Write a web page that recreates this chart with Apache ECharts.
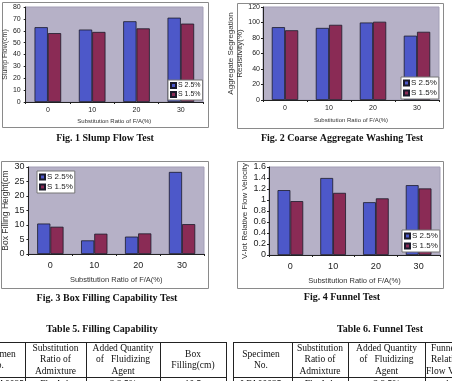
<!DOCTYPE html>
<html>
<head>
<meta charset="utf-8">
<script src="https://cdn.jsdelivr.net/npm/echarts@6/dist/echarts.min.js"></script>
<style>
    html, body { margin: 0; padding: 0; background: #fff; }
    #main { width: 452px; height: 381px; }
</style>
</head>
<body>
<div id="main"></div>
<script>
    // 横轴类别 (F/A 置换率)
    var categories = ['0', '10', '20', '30']
    var seriesNames = ['S 2.5%', 'S 1.5%']
    // Fig.1 坍落流动度
    var slumpHigh = [63, 61, 68, 71]
    var slumpLow = [58, 59, 62, 66]
    // Fig.2 骨料离析抵抗性
    var washHigh = [94, 93, 100, 83]
    var washLow = [90, 97, 101, 88]
    // Fig.3 箱形填充高度
    var boxHigh = [10.5, 4.7, 6, 28.3]
    var boxLow = [9.4, 7, 7.1, 10.3]
    // Fig.4 漏斗相对流速
    var funnelHigh = [1.18, 1.4, 0.96, 1.27]
    var funnelLow = [0.98, 1.13, 1.03, 1.21]

    var blue = '#4d58c9'
    var maroon = '#8a2b55'
    var plotBg = '#b6b1c7'
    var sans = 'Liberation Sans'
    var serif = 'Liberation Serif'

    var chart = echarts.init(document.getElementById('main'))

    function grid (left, top, width, height) {
        return {
            left: left, top: top, width: width, height: height,
            show: true, backgroundColor: plotBg,
            borderColor: '#a39eb6', borderWidth: 1
        }
    }

    function xAxis (idx, fontSize, margin, nameGap, nameSize) {
        return {
            type: 'category', gridIndex: idx, data: categories,
            name: 'Substitution Ratio of F/A(%)',
            nameLocation: 'middle', nameGap: nameGap,
            nameTextStyle: { fontSize: nameSize, fontFamily: sans, color: '#333' },
            axisLine: { lineStyle: { color: '#222', width: 1 } },
            axisTick: { show: true, length: 2, lineStyle: { color: '#222' } },
            axisLabel: { fontSize: fontSize, margin: margin, color: '#222', fontFamily: sans }
        }
    }

    function yAxis (idx, max, interval, name, fontSize, margin, nameGap, nameSize) {
        return {
            type: 'value', gridIndex: idx, min: 0, max: max, interval: interval,
            name: name, nameLocation: 'middle', nameGap: nameGap,
            nameTextStyle: { fontSize: nameSize, fontFamily: sans, color: '#333', lineHeight: nameSize + 1 },
            axisLine: { show: true, lineStyle: { color: '#222', width: 1 } },
            axisTick: { show: true, length: 2, lineStyle: { color: '#222' } },
            splitLine: { show: false },
            axisLabel: { fontSize: fontSize, margin: margin, color: '#222', fontFamily: sans }
        }
    }

    function bars (idx, name, data, color) {
        return {
            name: name, type: 'bar', xAxisIndex: idx, yAxisIndex: idx,
            data: data, barGap: '0%', barCategoryGap: '40%',
            itemStyle: { color: color, borderColor: '#1a1a2a', borderWidth: 0.8 }
        }
    }

    function legend (left, top, fontSize) {
        return {
            left: left, top: top, orient: 'vertical', data: seriesNames,
            icon: 'rect', itemWidth: 5, itemHeight: 5, itemGap: 2,
            padding: [2, 2, 2, 2], backgroundColor: '#fff',
            borderColor: '#777', borderWidth: 1, selectedMode: false,
            textStyle: { fontSize: fontSize, fontFamily: sans, color: '#222', padding: [0, 0, 0, -3] }
        }
    }

    function caption (x, y, text) {
        return {
            type: 'text', x: x, y: y,
            style: { text: text, font: 'bold 10px ' + serif, fill: '#111', textAlign: 'center', textVerticalAlign: 'middle' }
        }
    }

    function frame (x, y, w, h) {
        return {
            type: 'rect', shape: { x: x, y: y, width: w, height: h }, z: -1,
            style: { fill: 'none', stroke: '#8a8a8a', lineWidth: 1 }
        }
    }

    // 表格线与文字
    var tableItems = []
    function line (x1, y1, x2, y2) {
        tableItems.push({ type: 'line', shape: { x1: x1, y1: y1, x2: x2, y2: y2 }, style: { stroke: '#222', lineWidth: 1 } })
    }
    function cell (x, y, text, align) {
        tableItems.push({
            type: 'text', x: x, y: y,
            style: { text: text, font: '9.5px ' + serif, fill: '#111', textAlign: align || 'center', textVerticalAlign: 'middle' }
        })
    }
    // Table 5
    line(-5, 342.5, 226, 342.5)
    line(-5, 377.5, 226, 377.5)
    ;[25, 86, 160, 226].forEach(function (x) { line(x + 0.5, 342, x + 0.5, 381) })
    cell(-3, 354, 'Specimen'); cell(-3, 365, 'No.')
    cell(55.5, 348, 'Substitution'); cell(55.5, 359, 'Ratio of'); cell(55.5, 371, 'Admixture')
    cell(123, 348, 'Added Quantity'); cell(123, 359, 'of   Fluidizing'); cell(123, 371, 'Agent')
    cell(193, 354, 'Box'); cell(193, 365, 'Filling(cm)')
    cell(6, 384, 'LFA0025'); cell(55.5, 384, 'Fly Ash'); cell(123, 384, 'S 2.5%'); cell(193, 384, '10.5')
    // Table 6
    line(233, 342.5, 460, 342.5)
    line(233, 377.5, 460, 377.5)
    ;[233, 292, 348, 425].forEach(function (x) { line(x + 0.5, 342, x + 0.5, 381) })
    cell(261, 354, 'Specimen'); cell(261, 365, 'No.')
    cell(320, 348, 'Substitution'); cell(320, 359, 'Ratio of'); cell(320, 371, 'Admixture')
    cell(386.5, 348, 'Added Quantity'); cell(386.5, 359, 'of   Fluidizing'); cell(386.5, 371, 'Agent')
    cell(431, 348, 'Funnel', 'left'); cell(431, 359, 'Relative', 'left'); cell(426, 371, 'Flow Velocity', 'left')
    cell(261, 384, 'LFA00025'); cell(320, 384, 'Fly Ash'); cell(386.5, 384, 'S 2.5%'); cell(445, 384, '1.18', 'left')

    chart.setOption({
        animation: false,
        backgroundColor: '#fff',
        grid: [
            grid(23, 7, 180, 95),
            grid(263, 7, 176, 93),
            grid(28, 167, 176, 87),
            grid(269, 167, 171, 88)
        ],
        xAxis: [
            xAxis(0, 7, 5, 16, 6),
            xAxis(1, 7, 5, 17, 6),
            xAxis(2, 9, 7, 22, 7.5),
            xAxis(3, 9, 7, 22, 7.5)
        ],
        yAxis: [
            yAxis(0, 80, 10, 'Slump Flow(cm)', 7, 5, 14, 7),
            yAxis(1, 120, 20, 'Aggregate Segregation\nResistivity(%)', 7, 3, 15, 8),
            yAxis(2, 30, 5, 'Box Filling Height(cm', 9, 4, 15, 8.5),
            yAxis(3, 1.6, 0.2, 'V-lot Relative Flow Velocity', 9, 3, 19, 8)
        ],
        legend: [
            legend(168, 80, 7),
            legend(401, 77, 8),
            legend(37, 171, 8),
            legend(402, 230, 8)
        ],
        series: [
            bars(0, seriesNames[0], slumpHigh, blue),
            bars(0, seriesNames[1], slumpLow, maroon),
            bars(1, seriesNames[0], washHigh, blue),
            bars(1, seriesNames[1], washLow, maroon),
            bars(2, seriesNames[0], boxHigh, blue),
            bars(2, seriesNames[1], boxLow, maroon),
            bars(3, seriesNames[0], funnelHigh, blue),
            bars(3, seriesNames[1], funnelLow, maroon)
        ],
        graphic: [
            frame(2.5, 2.5, 206, 125),
            frame(237.5, 3.5, 206, 125),
            frame(1.5, 161.5, 207, 127),
            frame(237.5, 161.5, 206, 127),
            caption(105, 138, 'Fig. 1 Slump Flow Test'),
            caption(342, 138, 'Fig. 2 Coarse Aggregate Washing Test'),
            caption(107, 298, 'Fig. 3 Box Filling Capability Test'),
            caption(342, 297, 'Fig. 4 Funnel Test'),
            caption(102, 329, 'Table 5. Filling Capability'),
            caption(380, 329, 'Table 6. Funnel Test')
        ].concat(tableItems)
    })
</script>
</body>
</html>
